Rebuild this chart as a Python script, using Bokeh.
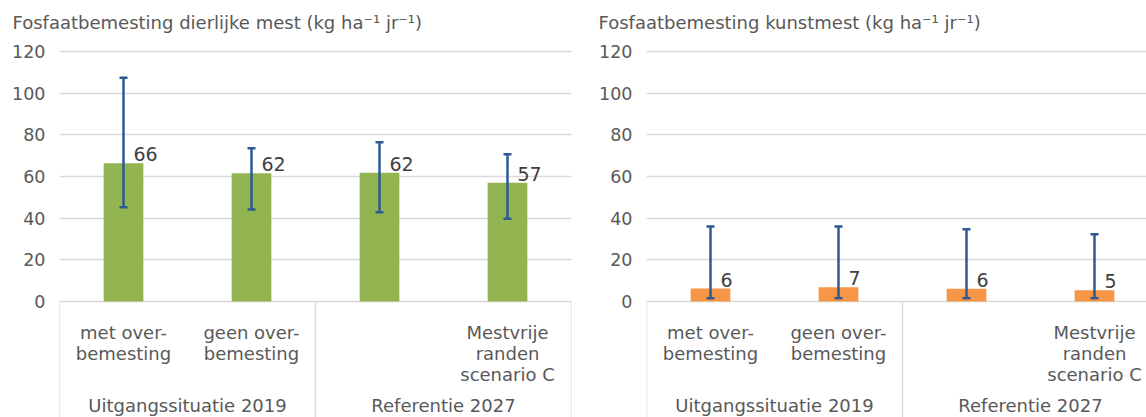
from bokeh.plotting import figure
from bokeh.layouts import row
from bokeh.models import ColumnDataSource, Whisker, TeeHead, FixedTicker, Title, Range1d
from bokeh.core.properties import value
from bokeh.embed import file_html
from bokeh.resources import INLINE

# ---------------- data ----------------
categories = ["met over-\nbemesting", "geen over-\nbemesting", "", "Mestvrije\nranden\nscenario C"]
groups = ["Uitgangssituatie 2019", "Referentie 2027"]
group_size = [2, 2]

dierlijk = [66.4, 61.6, 61.8, 57.0]
dierlijk_lo = [45.3, 44.2, 42.9, 39.7]
dierlijk_hi = [107.4, 73.6, 76.5, 70.7]
dierlijk_lbl = ["66", "62", "62", "57"]

kunst = [6.2, 6.8, 6.1, 5.4]
kunst_lo = [1.6, 1.6, 1.6, 1.6]
kunst_hi = [36.0, 36.0, 34.7, 32.3]
kunst_lbl = ["6", "7", "6", "5"]

yticks = [0, 20, 40, 60, 80, 100, 120]
title_left = "Fosfaatbemesting dierlijke  mest (kg ha\u207b\u00b9 jr\u207b\u00b9)"
title_right = "Fosfaatbemesting kunstmest (kg ha\u207b\u00b9 jr\u207b\u00b9)"

# ---------------- style ----------------
FONT = "DejaVu Sans"
GRID = "#D9D9D9"
TXT = "#595959"
ERR = "#2E5A94"
PX = 120.0 / 250.0          # data units per pixel (120 -> 250 px)
Y_TOP = 120 + 15 * PX       # frame top 15 px above the 120 gridline
Y_BOT = -116 * PX           # frame bottom 116 px below zero
CAT_W = 128.0               # pixels per category


def make_chart(title, vals, lo, hi, lbls, color, width, border_left, border_right, title_offset, x_end):
    p = figure(width=width, height=417, output_backend="svg", toolbar_location=None,
               x_range=Range1d(0, x_end), y_range=Range1d(Y_BOT, Y_TOP),
               x_axis_location=None, min_border_left=border_left, min_border_right=border_right,
               min_border_top=36, min_border_bottom=0)
    p.outline_line_color = None
    p.background_fill_color = "white"
    p.border_fill_color = "white"
    p.title = Title(text=title, align="left", offset=title_offset, standoff=7,
                    text_font=FONT, text_font_size="18px", text_font_style="normal",
                    text_color=TXT)

    p.yaxis.ticker = FixedTicker(ticks=yticks)
    p.yaxis.axis_line_color = None
    p.yaxis.major_tick_line_color = None
    p.yaxis.minor_tick_line_color = None
    p.yaxis.major_tick_out = 0
    p.yaxis.major_label_standoff = 14
    p.yaxis.major_label_text_font = FONT
    p.yaxis.major_label_text_font_size = "17.5px"
    p.yaxis.major_label_text_color = TXT
    p.xgrid.visible = False
    p.ygrid.ticker = FixedTicker(ticks=yticks)
    p.ygrid.grid_line_color = GRID
    p.ygrid.grid_line_width = 1.4

    xs = [i + 0.5 for i in range(len(vals))]
    src = ColumnDataSource(dict(x=xs, top=vals, lo=lo, hi=hi, lbl=lbls))

    # category boxes (group separators)
    bounds = [0]
    for g in group_size:
        bounds.append(bounds[-1] + g)
    p.segment(x0=bounds, x1=bounds, y0=[0] * len(bounds), y1=[Y_BOT] * len(bounds),
              line_color=GRID, line_width=1.4)

    p.vbar(x="x", top="top", width=0.31, bottom=0, source=src, fill_color=color,
           line_color=None)

    w = Whisker(base="x", upper="hi", lower="lo", source=src, line_color=ERR, line_width=2.5,
                upper_head=TeeHead(size=8, line_color=ERR, line_width=2.5),
                lower_head=TeeHead(size=8, line_color=ERR, line_width=2.5))
    w.level = "overlay"
    p.add_layout(w)

    p.text(x="x", y="top", text="lbl", source=src, x_offset=10, y_offset=-9,
           text_align="left", text_baseline="alphabetic", text_font=value(FONT),
           text_font_size="19px", text_color="#404040")

    # category labels (multi-line)
    cx, cy, ct = [], [], []
    for i, lab in enumerate(categories):
        if not lab:
            continue
        for k, line in enumerate(lab.split("\n")):
            cx.append(i + 0.5)
            cy.append(-(31 + 21 * k) * PX)
            ct.append(line)
    p.text(x=cx, y=cy, text=ct, text_align="center", text_baseline="alphabetic",
           text_font=value(FONT), text_font_size="18px", text_color=TXT)

    gx = [(bounds[j] + bounds[j + 1]) / 2 for j in range(len(groups))]
    p.text(x=gx, y=[-104 * PX] * len(groups), text=groups, text_align="center",
           text_baseline="alphabetic", text_font=value(FONT), text_font_size="18px",
           text_color=TXT)
    return p


p1 = make_chart(title_left, dierlijk, dierlijk_lo, dierlijk_hi, dierlijk_lbl, "#93B551",
                width=588, border_left=59, border_right=17, title_offset=-47, x_end=4)
p2 = make_chart(title_right, kunst, kunst_lo, kunst_hi, kunst_lbl, "#F79646",
                width=558, border_left=58, border_right=0, title_offset=-48,
                x_end=500.0 / CAT_W)

layout = row(p1, p2)
open("out.html", "w").write(file_html(layout, INLINE))
